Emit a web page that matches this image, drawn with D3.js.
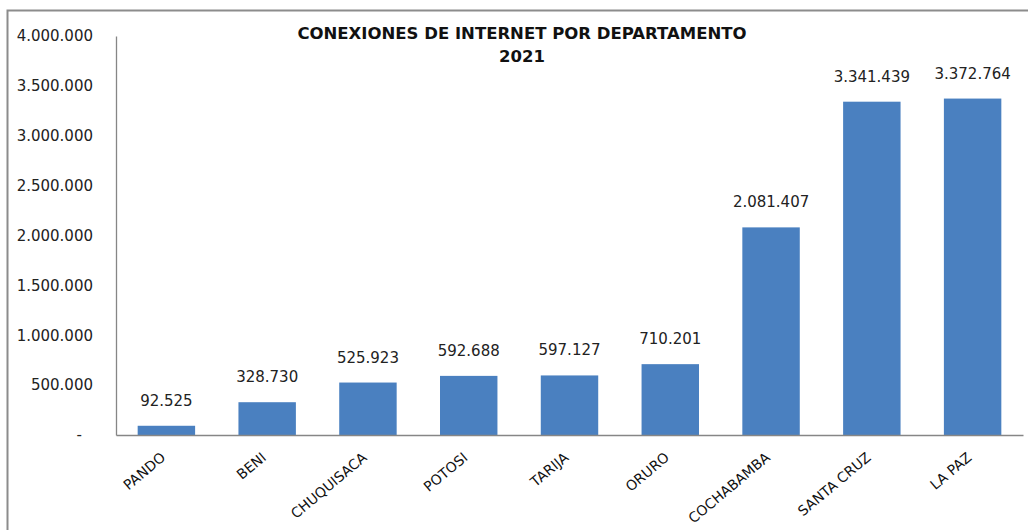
<!DOCTYPE html>
<html>
<head>
<meta charset="utf-8">
<script src="https://cdn.jsdelivr.net/npm/d3@7"></script>
<style>
  body { margin: 0; background: #fff; }
  .tick text { font-family: "DejaVu Sans", sans-serif; }
</style>
</head>
<body>
<div id="chart"></div>
<script>
var departamentos = ["PANDO", "BENI", "CHUQUISACA", "POTOSI", "TARIJA", "ORURO", "COCHABAMBA", "SANTA CRUZ", "LA PAZ"];
var conexiones = [92525, 328730, 525923, 592688, 597127, 710201, 2081407, 3341439, 3372764];
var yTicks = [0, 500000, 1000000, 1500000, 2000000, 2500000, 3000000, 3500000, 4000000];
var titleLines = ["CONEXIONES DE INTERNET POR DEPARTAMENTO", "2021"];

var data = departamentos.map(function(d, i) { return {name: d, value: conexiones[i]}; });

var W = 1028, H = 530;
var margin = {top: 36, right: 5, bottom: 95, left: 116},
    width = W - margin.left - margin.right,
    height = H - margin.top - margin.bottom;

// es-style thousands with dots
var fmt = d3.formatLocale({decimal: ",", thousands: ".", grouping: [3], currency: ["", ""]}).format(",d");

var svg = d3.select("#chart").append("svg")
    .attr("width", W)
    .attr("height", H);

// outer frame (only top and left visible in the crop)
svg.append("path")
    .attr("d", "M7.5," + H + "V10.5H" + W)
    .attr("fill", "none")
    .attr("stroke", "#8c8c8c")
    .attr("stroke-width", 2);

var g = svg.append("g")
    .attr("transform", "translate(" + margin.left + "," + margin.top + ")");

var xScale = d3.scaleBand().domain(departamentos).range([0, width]).paddingInner(0.43).paddingOuter(0.215),
    yScale = d3.scaleLinear().domain([0, 4000000]).range([height, 0]);

var yAxis = d3.axisLeft(yScale).tickValues(yTicks).tickSize(0).tickPadding(23)
    .tickFormat(function(d) { return d === 0 ? "-" : fmt(d); });

g.append("g")
    .attr("class", "y axis")
    .call(yAxis)
    .call(function(a) {
      a.select(".domain").attr("stroke", "#868686").attr("stroke-width", 1.3);
      a.selectAll("text").attr("font-size", 15).attr("fill", "#222");
      a.selectAll(".tick").filter(function(d) { return d === 0; }).select("text").attr("dx", -11);
    });

g.selectAll(".bar")
    .data(data)
    .enter().append("rect")
    .attr("class", "bar")
    .attr("x", function(d) { return xScale(d.name); })
    .attr("y", function(d) { return yScale(d.value); })
    .attr("width", xScale.bandwidth())
    .attr("height", function(d) { return height - yScale(d.value); })
    .attr("fill", "#4a80c0");

var xAxis = d3.axisBottom(xScale).tickSize(0).tickSizeOuter(0);

g.append("g")
    .attr("class", "x axis")
    .attr("transform", "translate(0," + height + ")")
    .call(xAxis)
    .call(function(a) {
      a.select(".domain").attr("stroke", "#868686").attr("stroke-width", 1.3);
      a.selectAll("text")
        .attr("font-size", 14)
        .attr("fill", "#111")
        .attr("text-anchor", "end")
        .attr("y", 0).attr("dy", 0)
        .attr("transform", "translate(0,24) rotate(-40)");
    });

// value labels
g.selectAll(".label")
    .data(data)
    .enter().append("text")
    .attr("class", "label")
    .attr("x", function(d) { return xScale(d.name) + xScale.bandwidth() / 2; })
    .attr("y", function(d) { return yScale(d.value) - 20; })
    .attr("text-anchor", "middle")
    .attr("font-family", "DejaVu Sans, sans-serif")
    .attr("font-size", 15)
    .attr("fill", "#222")
    .text(function(d) { return fmt(d.value); });

// title
svg.append("g").selectAll("text")
    .data(titleLines)
    .enter().append("text")
    .attr("x", 522)
    .attr("y", function(d, i) { return 39 + i * 23; })
    .attr("text-anchor", "middle")
    .attr("font-family", "DejaVu Sans, sans-serif")
    .attr("font-weight", "bold")
    .attr("font-size", 16.5)
    .attr("fill", "#111")
    .text(function(d) { return d; });
</script>
</body>
</html>
